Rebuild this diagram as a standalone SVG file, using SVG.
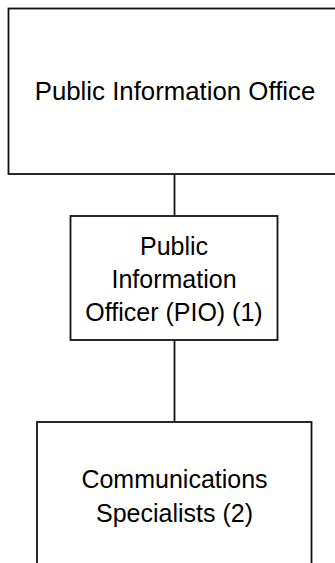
<svg xmlns="http://www.w3.org/2000/svg" width="335" height="563" viewBox="0 0 335 563">
<style>
.box{fill:#fff;stroke:#111;stroke-width:1.8}
.lbl{font-family:"Liberation Sans",Arial,sans-serif;font-size:25px;fill:#000;text-anchor:middle}
.conn{stroke:#111;stroke-width:1.8;fill:none}
</style>
<rect width="335" height="563" fill="#fff"/>
<g id="connectors">
<line class="conn" x1="174.5" y1="174" x2="174.5" y2="216"/>
<line class="conn" x1="174.5" y1="340" x2="174.5" y2="422"/>
</g>
<g id="office">
<rect class="box" x="8.5" y="8.5" width="340" height="165.5"/>
<text class="lbl" x="175" y="100" style="font-size:25.8px">Public Information Office</text>
</g>
<g id="pio">
<rect class="box" x="70.5" y="216" width="207" height="124"/>
<text class="lbl" x="174" y="255">Public</text>
<text class="lbl" x="174" y="288">Information</text>
<text class="lbl" x="174" y="321">Officer (PIO) (1)</text>
</g>
<g id="specialists">
<rect class="box" x="37" y="422" width="274.5" height="160"/>
<text class="lbl" x="174.5" y="488">Communications</text>
<text class="lbl" x="174.5" y="522">Specialists (2)</text>
</g>
</svg>
